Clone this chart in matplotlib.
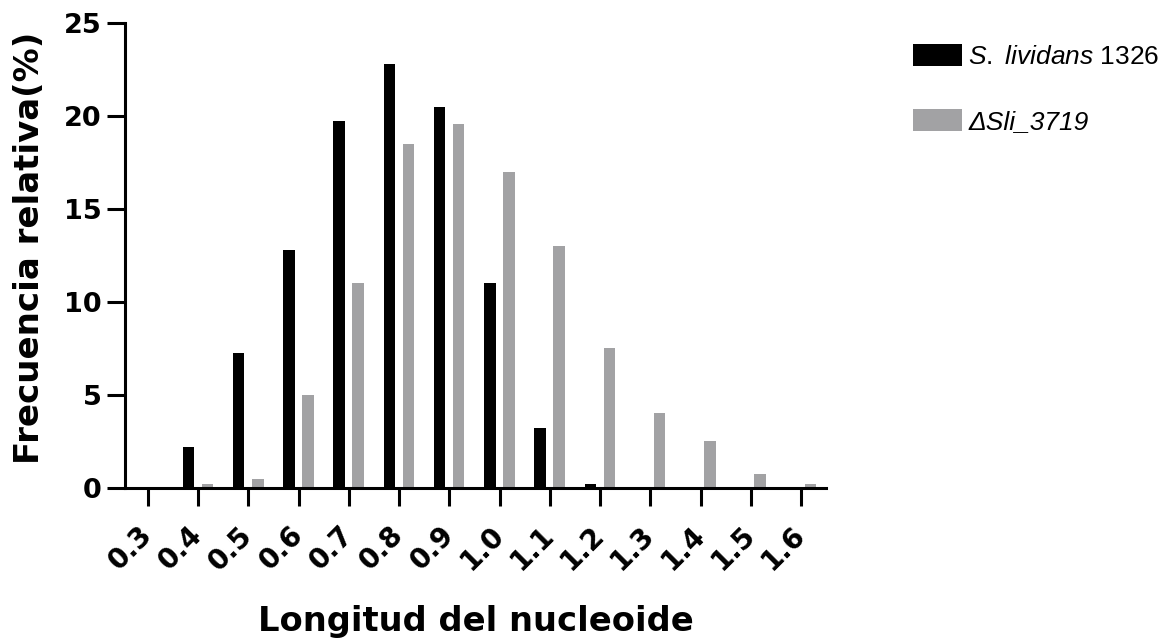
import matplotlib
matplotlib.use("Agg")
import matplotlib.pyplot as plt
import numpy as np

plt.rcParams['font.family'] = ['Liberation Sans', 'DejaVu Sans']
plt.rcParams['mathtext.fontset'] = 'custom'
plt.rcParams['mathtext.it'] = 'Liberation Sans:italic'
plt.rcParams['mathtext.rm'] = 'Liberation Sans'

categories = [0.3, 0.4, 0.5, 0.6, 0.7, 0.8, 0.9, 1.0, 1.1, 1.2, 1.3, 1.4, 1.5, 1.6]
tick_labels = ["0.3", "0.4", "0.5", "0.6", "0.7", "0.8", "0.9", "1.0", "1.1", "1.2", "1.3", "1.4", "1.5", "1.6"]
wild_type = [0.0, 2.2, 7.25, 12.8, 19.75, 22.8, 20.5, 11.0, 3.2, 0.2, 0.0, 0.0, 0.0, 0.0]
mutant = [0.0, 0.2, 0.5, 5.0, 11.0, 18.5, 19.55, 17.0, 13.0, 7.5, 4.0, 2.5, 0.75, 0.2]
series_names = [r"$\it{S.\ lividans}$ 1326", "\u0394Sli_3719"]

bold_font = ['DejaVu Sans']

fig = plt.figure(figsize=(11.67, 6.41), dpi=100)
ax = fig.add_axes([0.107, 0.239, 0.601, 0.725])

x = np.array(categories)
w = 0.023
ax.bar(x - 0.0195, wild_type, width=w, color='black', label=series_names[0])
ax.bar(x + 0.0185, mutant, width=w, color='#a2a2a4', label=series_names[1])

ax.set_xlim(0.254, 1.65)
ax.set_ylim(0, 25)
ax.set_yticks([0, 5, 10, 15, 20, 25])
ax.set_xticks(categories)
ax.set_xticklabels(tick_labels, rotation=45, ha='right', va='center',
                   rotation_mode='anchor', fontsize=20, fontweight='bold',
                   family=bold_font)
for lab in ax.get_yticklabels():
    lab.set_fontsize(19.5)
    lab.set_fontweight('bold')
    lab.set_family(bold_font)

for s in ['top', 'right']:
    ax.spines[s].set_visible(False)
for s in ['left', 'bottom']:
    ax.spines[s].set_linewidth(2.2)
ax.tick_params(width=2.2, length=13)
ax.tick_params(axis='x', pad=18)
ax.tick_params(axis='y', pad=3.6)

ax.set_ylabel("Frecuencia relativa(%)", fontsize=24.5, fontweight='bold', family=bold_font)
ax.set_xlabel("Longitud del nucleoide", fontsize=24.3, fontweight='bold', family=bold_font)
ax.yaxis.set_label_coords(-0.113, 0.517)
ax.xaxis.set_label_coords(0.5, -0.252)

leg = fig.legend(loc='upper left', bbox_to_anchor=(0.782, 0.931), frameon=False,
                 fontsize=19, handlelength=1.86, handleheight=0.87, labelspacing=1.53,
                 handletextpad=0.25, borderaxespad=0, borderpad=0)
leg.get_texts()[1].set_fontstyle('italic')

fig.savefig("out.png", dpi=100)
